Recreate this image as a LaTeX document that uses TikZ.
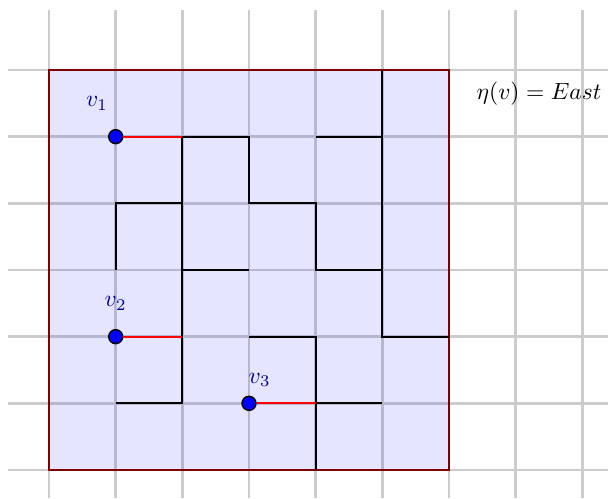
\documentclass[tikz,border=0pt]{standalone}
\begin{document}
\begin{tikzpicture}[x=1cm,y=1cm,
  gridline/.style={gray!40, line width=1.1pt},
  wall/.style={black, line width=0.9pt},
  redge/.style={red, line width=0.9pt},
  vert/.style={circle, fill=blue, draw=black, line width=0.6pt, inner sep=0pt, minimum size=0.21cm},
  vlabel/.style={text=blue!55!black, inner sep=0pt}]
\useasboundingbox (-0.735,-0.42) rectangle (8.385,7.05);
% background grid
\foreach \j in {0,...,6} \draw[gridline] (-0.62,\j) -- (8.39,\j);
\foreach \i in {0,...,8} \draw[gridline] (\i,-0.42) -- (\i,6.9);
% region
\fill[blue, fill opacity=0.1] (0,0) rectangle (6,6);
\draw[red!50!black, line width=0.6pt] (0,0) rectangle (6,6);
% walls
\draw[wall] (2,5) -- (3,5) -- (3,4) -- (4,4) -- (4,3) -- (5,3);
\draw[wall] (5,6) -- (5,2) -- (6,2);
\draw[wall] (4,5) -- (5,5);
\draw[wall] (2,5) -- (2,1) -- (1,1);
\draw[wall] (1,3) -- (1,4) -- (2,4);
\draw[wall] (2,3) -- (3,3);
\draw[wall] (3,2) -- (4,2) -- (4,0);
\draw[wall] (4,1) -- (5,1);
% red edges and vertices
\coordinate (e1) at (2,5);
\coordinate (e2) at (2,2);
\coordinate (e3) at (4,1);
\node[vert] (v1) at (1,5) {};
\node[vert] (v2) at (1,2) {};
\node[vert] (v3) at (3,1) {};
\draw[redge] (v1) -- (e1);
\draw[redge] (v2) -- (e2);
\draw[redge] (v3) -- (e3);
\node[vlabel] (l1) at (0.72,5.5) {$v_1$};
\node[vlabel] (l2) at (1.0,2.5) {$v_2$};
\node[vlabel] (l3) at (3.16,1.35) {$v_3$};
\node (eta) at (7.35,5.64) {$\eta(v) = East$};
\end{tikzpicture}
\end{document}
